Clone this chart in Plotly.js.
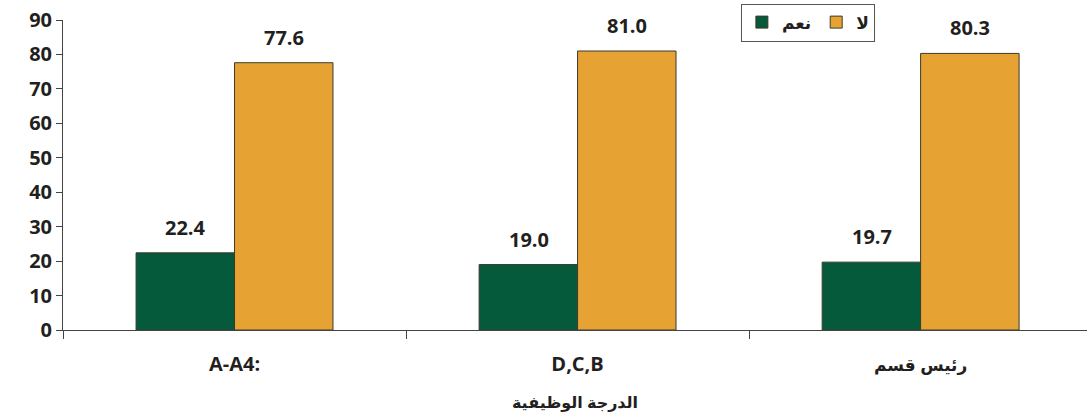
<!DOCTYPE html>
<html>
<head>
<meta charset="utf-8">
<script src="https://cdn.plot.ly/plotly-3.0.1.min.js"></script>
<style>
  html, body { margin: 0; padding: 0; background: #fff; }
  #chart { width: 1087px; height: 416px; }
</style>
</head>
<body>
<div id="chart"></div>
<script>
// Job grade categories and the share answering yes / no (%)
const categories = ['A-A4:', 'D,C,B', 'رئيس قسم'];
const yesValues = [22.4, 19.0, 19.7];
const noValues = [77.6, 81.0, 80.3];
const seriesNames = ['نعم', 'لا'];
const axisTitle = 'الدرجة الوظيفية';

const textColor = '#231f20';
const fontFamily = '"Open Sans", "DejaVu Sans", sans-serif';
const colors = ['#045a3a', '#e6a333'];

// Arabic glyphs run wide in the fallback font, so set them a little smaller
const isArabic = s => /[\u0600-\u06FF]/.test(s);
const tickText = categories.map(c =>
  isArabic(c) ? '<span style="font-size:17px">' + c + '</span>' : c);

const traces = [yesValues, noValues].map((vals, i) => ({
  type: 'bar',
  name: seriesNames[i],
  x: categories,
  y: vals,
  marker: { color: colors[i], line: { color: '#3a3a2e', width: 1 } },
  hoverinfo: 'skip'
}));

// Value labels sit above each bar, offset to the bar's half of the group
const halfBar = 49;
const annotations = [];
[yesValues, noValues].forEach((vals, i) => {
  vals.forEach((v, j) => {
    annotations.push({
      x: categories[j], y: v, xref: 'x', yref: 'y',
      text: v.toFixed(1), showarrow: false,
      xshift: i === 0 ? -halfBar : halfBar,
      yanchor: 'bottom', yshift: 10,
      font: { family: fontFamily, size: 20, color: textColor, weight: 700 }
    });
  });
});

const layout = {
  width: 1087, height: 416,
  margin: { l: 63, r: 0, t: 20, b: 86 },
  paper_bgcolor: '#fff', plot_bgcolor: '#fff',
  barmode: 'group', bargap: 0.426, bargroupgap: 0,
  showlegend: true,
  legend: {
    orientation: 'h', x: 0.662, xanchor: 'left', y: 1.053, yanchor: 'top',
    bgcolor: '#fff', bordercolor: '#555', borderwidth: 1,
    font: { family: fontFamily, size: 17, color: textColor, weight: 700 },
    itemwidth: 30, traceorder: 'normal'
  },
  xaxis: {
    type: 'category', range: [-0.5, 2.485],
    tickmode: 'array', tickvals: categories, ticktext: tickText,
    showline: true, linecolor: '#444', linewidth: 1,
    ticks: 'outside', tickson: 'boundaries', ticklen: 8, tickcolor: '#444',
    ticklabelstandoff: 16,
    showgrid: false, zeroline: false,
    tickfont: { family: fontFamily, size: 20, color: textColor, weight: 700 },
    title: { text: axisTitle, standoff: 20,
      font: { family: fontFamily, size: 16, color: textColor, weight: 700 } }
  },
  yaxis: {
    range: [0, 90], dtick: 10,
    showline: true, linecolor: '#444', linewidth: 1,
    ticks: 'outside', ticklen: 6, tickcolor: '#444',
    showgrid: false, zeroline: false,
    tickfont: { family: fontFamily, size: 20, color: textColor, weight: 700 }
  },
  annotations: annotations
};

Plotly.newPlot('chart', traces, layout, { displayModeBar: false, staticPlot: true });
</script>
</body>
</html>
